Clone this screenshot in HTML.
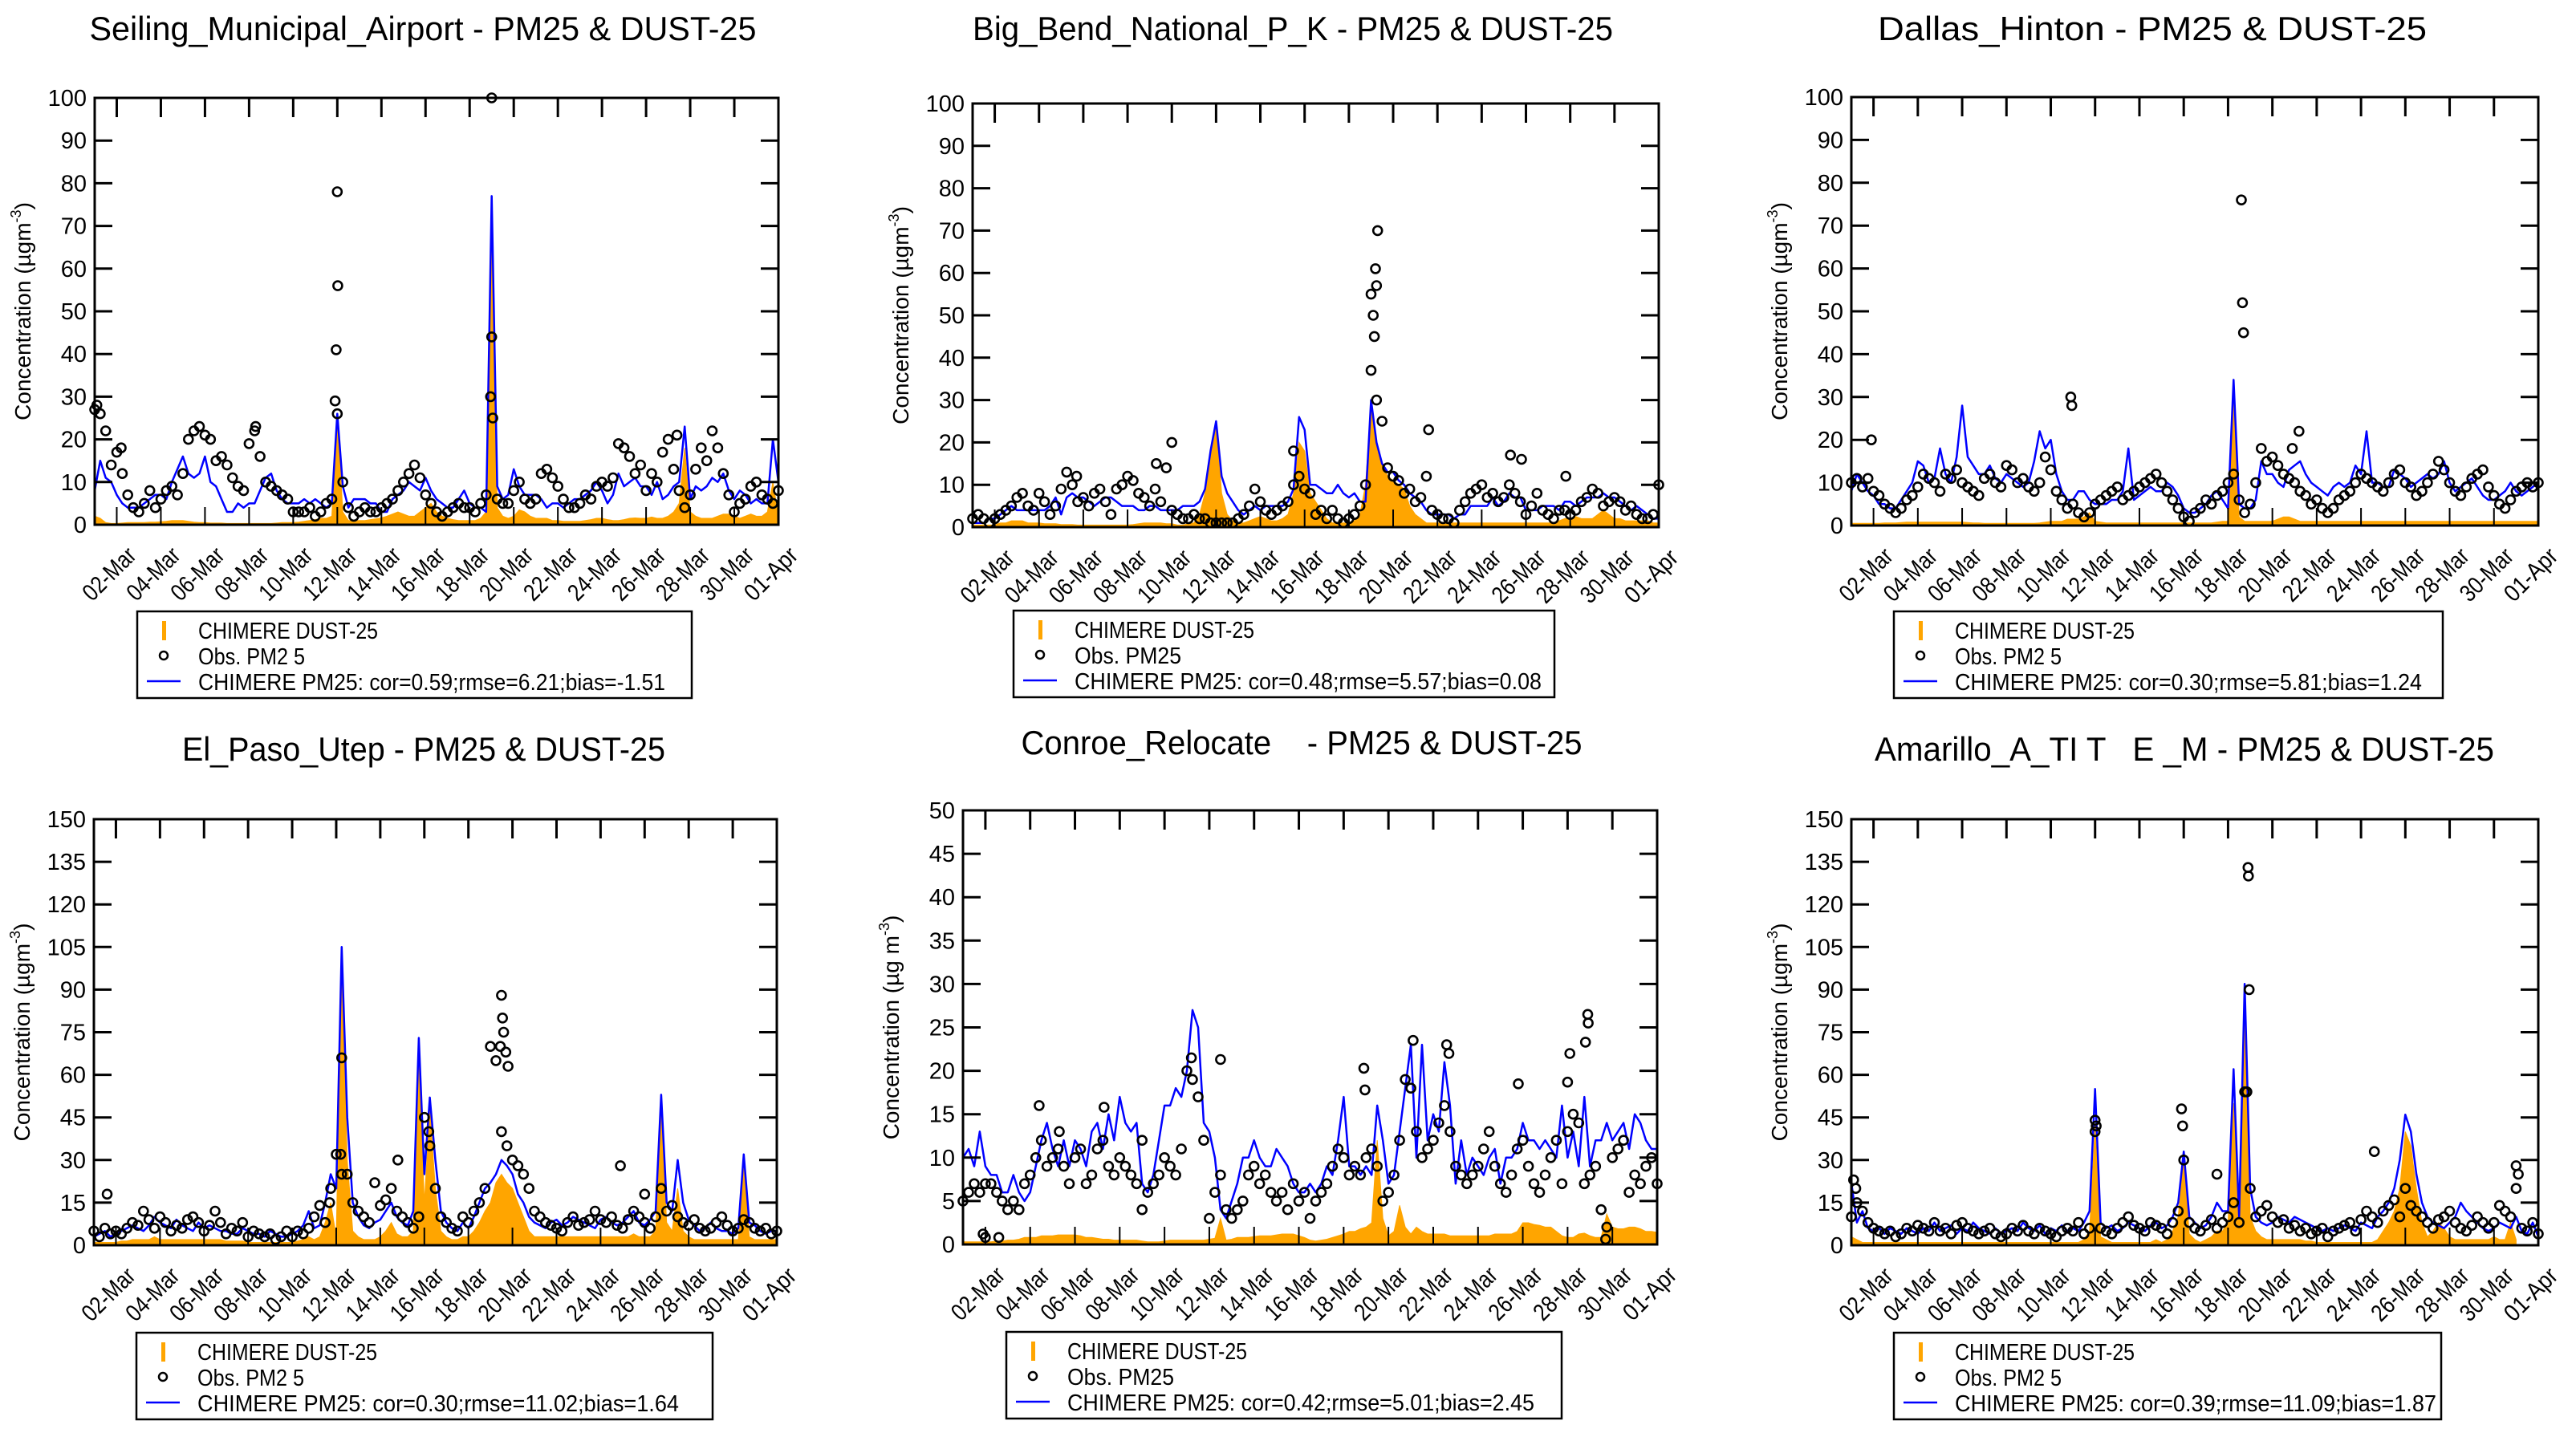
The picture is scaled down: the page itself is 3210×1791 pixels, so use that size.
<!DOCTYPE html>
<html><head><meta charset="utf-8"><title>PM25 & DUST-25</title>
<style>html,body{margin:0;padding:0;background:#fff}svg{display:block}text{font-family:"Liberation Sans",sans-serif;fill:#000;white-space:pre}</style>
</head><body>
<svg id="fig" xmlns="http://www.w3.org/2000/svg" width="3210" height="1791" viewBox="0 0 3210 1791"></svg>
<script>
// ---- shared axis data ----
const xTickDays = [1,3,5,7,9,11,13,15,17,19,21,23,25,27,29,31];
const xTickLabels = ['02-Mar','04-Mar','06-Mar','08-Mar','10-Mar','12-Mar','14-Mar','16-Mar','18-Mar','20-Mar','22-Mar','24-Mar','26-Mar','28-Mar','30-Mar','01-Apr'];
const yTicks100 = [0,10,20,30,40,50,60,70,80,90,100];
const yTicks150 = [0,15,30,45,60,75,90,105,120,135,150];
const yTicks50 = [0,5,10,15,20,25,30,35,40,45,50];

// ---- panel 1: Seiling ----
const p1Model = [8,15,11,10, 7,5,4,4, 4,5,6,7, 7,6,10,13, 16,12,11,12, 16,10,9,6, 3,3,5,4, 5,5,8,11, 12,8,6,5, 5,5,6,5, 6,5,4,5, 26,9,4,6, 6,6,5,5, 3,3,6,7, 8,10,9,8, 11,8,6,5, 4,4,6,8, 5,4,4,3, 77,9,6,7, 13,9,7,7, 7,6,4,5, 5,4,5,6, 6,7,8,10, 8,5,7,12, 9,10,11,9, 9,7,10,6, 7,9,10,23, 6,9,8,9, 11,10,12,8, 6,8,7,5, 6,5,5,20, 10];
const p1Obs = [27,26,22,14, 17,12,7,4, 3,5,8,4, 6,8,9,7, 12,20,22,23, 21,20,15,16, 14,11,9,8, 19,22,16,10, 9,8,7,6, 3,3,3,4, 2,3,5,6, 26,10,4,2, 3,4,3,3, 4,5,6,8, 10,12,14,11, 7,5,3,2, 3,4,5,4, 4,3,5,7, 44,6,5,5, 8,10,6,5, 6,12,13,11, 9,6,4,4, 5,7,6,9, 10,9,11,19, 18,16,12,14, 8,12,10,17, 20,13,8,4, 7,13,18,15, 22,18,12,7, 3,5,6,9, 10,7,6,5, 8];
const p1Dust = [2,1.5,0.5,0.3, 0.3,0.4,0.5,0.5, 0.5,0.5,0.6,0.6, 0.7,0.8,1,1, 1,0.8,0.6,0.5, 0.5,0.4,0.4,0.4, 0.3,0.3,0.3,0.3, 0.3,0.3,0.3,0.3, 0.3,0.4,0.5,0.5, 0.5,0.6,0.8,1, 1.2,1.5,1.5,2, 25,3,1,1, 1,1,1.2,1.4, 1.6,2,2.5,3, 2.5,2,2,3, 4,5,3,2, 1.5,1.2,1,1, 1,1,1.5,3, 75,4,2,1.5, 2,3.5,3,2, 1.5,1.5,1.5,1, 1,0.8,0.8,0.8, 0.8,1,1.2,1.5, 1.5,1.2,1,1, 1.2,1.5,1.6,1.5, 1.5,1.8,1.5,1.5, 2,3,5,18, 3,2,1.5,1.5, 1.5,2,2.5,2.5, 2,1.5,2,2.5, 2,2,3,10, 2];
const p1ObsExtraT = [11.0,11.02,10.95,10.9,18.0,17.95,18.05,0.1,1.2,7.3,26.4];
const p1ObsExtraV = [78,56,41,29,100,30,25,28,18,23,21];

// ---- panel 2: Big Bend ----
const p2Model = [1,1,1,2, 2,3,4,5, 4,4,4,4, 4,4,5,7, 3,7,8,7, 7,6,5,6, 7,7,6,5, 5,5,4,4, 5,5,4,4, 4,4,5,5, 5,6,9,18, 25,12,8,6, 4,3,4,5, 4,5,5,5, 5,6,9,26, 23,10,10,9, 8,8,10,8, 7,8,6,6, 30,20,15,13, 13,11,10,8, 7,6,4,3, 3,3,3,2, 3,3,5,5, 5,5,7,5, 6,8,7,7, 4,4,4,5, 5,5,4,6, 6,5,6,7, 7,7,8,7, 7,6,5,4, 5,4,3,2, 2];
const p2Obs = [2,3,2,1, 2,3,4,5, 7,8,5,4, 8,6,3,5, 9,13,10,6, 7,5,8,9, 6,3,9,10, 12,11,8,7, 5,9,6,14, 4,3,2,2, 3,2,2,1, 1,1,1,1, 2,3,5,9, 6,4,3,4, 5,6,10,12, 9,8,3,4, 2,4,2,1, 2,3,5,10, 55,30,25,14, 12,11,8,9, 6,7,12,4, 3,2,2,1, 4,6,8,9, 10,7,8,6, 7,10,8,6, 3,5,8,4, 3,2,4,4, 3,4,6,7, 9,8,5,6, 7,6,4,5, 3,2,2,3, 10];
const p2Dust = [0.5,0.5,0.5,0.5, 0.5,1,1,1.5, 1.5,1.5,1,1, 1,0.8,0.8,0.8, 0.6,0.6,0.6,0.5, 0.5,0.5,0.5,0.5, 0.5,0.5,0.5,0.5, 0.5,0.6,0.8,1, 1,1,1,0.8, 0.8,0.5,0.5,0.8, 1,3,8,18, 25,8,3,1.5, 1,1,1.5,2, 2.5,2,1.5,1.5, 2,3,8,20, 18,8,6,4, 2,1,1,1, 1,1.5,3,10, 28,20,15,12, 11,10,9,5, 3,2,1,1, 1,1,1,1, 1,1,1,1, 1,1,1,1, 1,1,1,1, 1,1,1,1, 1,1,1.5,2, 2,2.5,2,2, 2,3,4,3, 2,2,1.5,1.5, 1.5,1.5,1.5,1, 1];
const p2ObsExtraT = [18.3,18.2,18.25,18.1,18.15,18.0,20.6,14.5,9.0,4.7,24.3,24.8,26.8,8.3];
const p2ObsExtraV = [70,61,57,50,45,37,23,18,20,12,17,16,12,15];

// ---- panel 3: Dallas Hinton ----
const p3Model = [8,12,10,8, 7,5,5,4, 4,6,8,10, 15,14,10,11, 18,12,10,16, 28,16,14,12, 12,14,11,10, 12,11,10,9, 10,15,22,18, 20,12,8,6, 6,8,8,6, 5,5,5,6, 6,8,18,6, 7,8,9,8, 8,10,9,7, 4,3,3,4, 5,7,8,6, 4,34,5,4, 4,6,15,12, 12,10,9,13, 14,15,12,10, 9,8,7,9, 10,9,10,14, 12,22,10,10, 9,9,13,12, 11,9,10,11, 12,11,12,15, 10,8,9,10, 11,9,7,6, 6,7,8,10, 8,7,8,9, 10];
const p3Obs = [10,11,9,11, 8,7,5,4, 3,4,6,7, 9,12,11,10, 8,12,11,13, 10,9,8,7, 11,12,10,9, 14,13,10,11, 9,8,10,16, 13,8,6,4, 5,3,2,3, 5,6,7,8, 9,6,7,8, 9,10,11,12, 10,8,6,4, 2,1,3,4, 6,5,7,8, 10,12,6,3, 5,10,18,15, 16,14,12,11, 10,8,7,5, 6,4,3,4, 6,7,8,10, 12,11,10,9, 8,10,12,13, 10,9,7,8, 10,12,15,13, 10,8,7,9, 11,12,13,9, 7,5,4,6, 8,9,10,9, 10];
const p3Dust = [0.5,0.5,0.5,0.5, 0.5,0.5,0.6,0.6, 0.6,0.7,0.8,0.8, 0.8,0.8,0.8,0.8, 0.8,0.8,0.8,0.8, 0.8,0.7,0.6,0.6, 0.5,0.5,0.5,0.5, 0.5,0.5,0.5,0.5, 0.5,0.5,0.6,0.8, 1,1,1,1.5, 1.5,1.5,2,3, 1,0.8,0.6,0.6, 0.6,0.6,0.6,0.6, 0.6,0.6,0.6,0.6, 0.6,0.6,0.6,0.6, 0.6,0.6,0.6,0.6, 0.6,0.6,0.8,1, 1,30,2,1, 1,1,1,1, 1,1.5,2,2, 1.5,1,1,1, 1,1,1,1, 1,1,1,1, 1,1,1,1, 1,1,1,1, 1,1,1,1, 1,1,1,1, 1,1,1,1, 1,1,1,1, 1,1,1,1, 1,1,1,1, 1];
const p3ObsExtraT = [17.6,17.65,17.7,9.9,9.95,0.9,20.2,19.9];
const p3ObsExtraV = [76,52,45,30,28,20,22,18];

// ---- panel 4: El Paso ----
const p4Model = [3,4,5,3, 4,5,6,7, 6,5,7,10, 8,7,6,9, 7,6,5,8, 6,7,6,5, 5,4,4,6, 5,4,4,3, 5,4,3,3, 4,5,7,12, 6,7,15,25, 20,105,45,15, 10,7,6,8, 9,12,15,10, 8,7,12,73, 25,52,30,12, 8,6,5,8, 6,10,15,20, 22,25,30,28, 25,18,15,10, 8,7,6,8, 9,7,8,10, 9,8,7,6, 9,10,8,7, 8,10,12,8, 7,9,12,53, 15,12,30,15, 9,7,5,6, 8,6,5,5, 4,6,32,8, 7,5,4,5, 5];
const p4Obs = [5,3,6,4, 5,4,6,8, 7,12,9,6, 10,8,5,7, 6,9,10,8, 5,7,12,8, 4,6,5,8, 3,5,4,3, 4,2,3,5, 3,5,4,6, 10,14,8,20, 32,25,25,15, 12,10,8,22, 14,16,20,12, 10,8,6,10, 45,35,20,10, 8,6,5,10, 8,12,15,20, 70,65,40,35, 30,28,25,20, 12,10,8,7, 6,5,8,10, 7,8,9,12, 9,8,10,7, 6,9,12,10, 8,6,10,20, 12,14,10,8, 7,9,6,5, 6,8,10,7, 5,6,9,8, 6,5,6,4, 5];
const p4Dust = [1,1,1,1, 1,1.5,1.5,2, 2,2,2,3, 2,2,2,2, 2,2,2,2, 2,2,2,2, 1.5,1.5,1.5,1.5, 1,1,1,1, 1,1,1,1, 1,1.5,2,3, 2,3,8,15, 3,100,30,5, 3,2,2,2, 3,5,8,4, 3,3,5,68, 15,48,20,5, 3,2,2,3, 3,5,8,12, 15,22,25,22, 20,15,10,5, 3,3,3,3, 3,3,3,3, 3,3,3,3, 3,3,3,3, 3,3,4,3, 3,3,5,48, 8,5,20,5, 3,2,2,2, 2,2,2,2, 2,2,28,3, 2,2,2,2, 2];
const p4ObsExtraT = [18.5,18.55,18.6,18.45,18.7,18.8,11.25,13.8,0.6,23.9,25.0,10.7,11.2,15.2];
const p4ObsExtraV = [88,80,75,70,68,63,66,30,18,28,18,15,32,40];

// ---- panel 5: Conroe ----
const p5Model = [10,11,9,13, 9,8,8,6, 6,8,6,5, 6,9,12,14, 11,9,12,9, 12,11,9,13, 14,11,15,12, 17,14,13,14, 7,6,8,12, 16,16,18,17, 20,27,25,14, 13,10,4,3, 5,7,10,10, 12,10,9,9, 11,10,9,7, 6,6,7,6, 7,9,8,12, 17,9,9,8, 9,8,16,12, 7,8,13,18, 23,10,23,12, 15,13,21,16, 7,12,8,10, 9,8,10,11, 7,10,10,11, 14,12,12,11, 12,11,10,16, 10,13,9,17, 9,12,12,14, 12,13,14,11, 15,14,12,11, 11];
const p5Obs = [5,6,7,6, 7,7,6,5, 4,5,4,7, 8,10,12,9, 10,11,9,7, 10,11,7,8, 11,12,9,8, 10,9,8,7, 4,6,7,8, 10,9,8,11, 20,19,17,12, 3,6,8,4, 3,4,5,8, 9,7,8,6, 5,6,4,7, 5,6,3,5, 6,7,9,11, 10,8,9,8, 10,11,9,5, 6,8,12,19, 18,13,10,11, 12,14,16,13, 9,8,7,8, 9,11,13,9, 7,6,8,11, 12,9,7,6, 8,10,12,7, 13,15,14,7, 8,9,4,2, 10,11,12,6, 8,7,9,10, 7];
const p5Dust = [0.3,0.3,0.3,0.3, 0.3,0.3,0.4,0.4, 0.5,0.5,0.6,0.8, 0.8,0.8,1,1, 1,1.1,1.1,1.1, 1.1,1,0.8,0.8, 0.7,0.6,0.6,0.5, 0.5,0.5,0.5,0.5, 0.4,0.3,0.3,0.3, 0.4,0.5,0.5,0.5, 0.5,0.5,0.5,0.5, 0.6,0.7,3,0.5, 0.6,0.8,0.8,0.8, 0.9,1,1,1, 1.1,1.2,1.2,1.2, 1,0.8,0.5,0.4, 0.5,0.6,0.8,1, 1.2,1.5,1.5,1.8, 2,2.5,12,3, 1,1.5,4.5,2, 1.2,2,1.5,1.2, 1.2,1.2,1.2,1, 1,1,1,1, 1,1,1,1.2, 1.2,1.2,1.2,1.5, 2.5,2.5,2.3,2.2, 2,2,1.5,1, 0.8,0.8,1.2,1.3, 1,0.8,0.8,3.5, 2,1.8,1.8,2, 2,1.8,1.5,1.5, 1.4];
const p5ObsExtraT = [0.9,1.0,1.6,11.5,17.9,17.95,20.1,21.6,21.7,27.1,27.0,27.9,27.92,27.8,3.4,6.3,24.8,28.7,10.2,4.3,8.0];
const p5ObsExtraV = [1.2,0.8,0.8,21.3,20.3,17.8,23.5,23,22,22,18.7,26.5,25.5,23.3,16,15.8,18.5,0.6,21.5,13,12];

// ---- panel 6: Amarillo ----
const p6Model = [22,8,12,6, 5,6,4,6, 5,4,6,5, 4,6,5,8, 5,6,7,4, 6,5,8,6, 5,4,6,4, 5,6,5,8, 6,5,7,4, 6,5,7,5, 6,5,8,12, 55,8,6,7, 5,6,8,7, 6,5,7,8, 6,7,10,15, 33,10,8,6, 7,10,15,12, 12,62,10,92, 20,10,8,7, 8,10,9,8, 10,9,8,7, 6,5,6,5, 6,7,6,5, 8,7,6,10, 12,15,20,30, 46,40,25,15, 10,8,7,6, 8,10,15,12, 10,8,6,5, 6,8,7,6, 10,5,4,8, 3];
const p6Obs = [10,15,12,8, 6,5,4,5, 3,4,6,5, 7,6,5,8, 5,6,4,7, 8,6,5,4, 5,6,4,3, 4,6,5,7, 5,4,6,5, 4,3,5,6, 5,8,4,6, 40,6,5,4, 6,8,10,7, 6,5,8,7, 6,4,8,12, 30,8,6,5, 7,9,6,8, 10,15,8,54, 20,10,12,14, 10,8,9,6, 7,5,6,4, 5,6,3,5, 6,7,8,5, 9,12,10,8, 12,14,16,10, 20,14,12,10, 8,6,9,10, 12,8,6,5, 7,10,8,6, 8,14,12,10, 20,6,5,8, 4];
const p6Dust = [3,2,1,1, 1,1,1,1, 1,1,1,1, 1,1,1,1, 1,1,1,1, 1,1,1,1, 1,1,1,1, 1,1,1,1, 1,1,1,1, 1,1,1,1, 1,1,2,5, 42,3,2,1, 1,1,1,1, 1,1,1,2, 1,2,5,10, 30,4,2,1, 2,3,5,5, 8,50,5,90, 10,5,3,2, 2,2,2,2, 2,2,1.5,1.5, 1,1,1,1, 1,1,1,1, 1,1,1,2, 5,8,12,20, 40,35,20,8, 3,5,8,6, 3,2,2,2, 2,2,2,2, 3,2,2,8, 2];
const p6ObsExtraT = [17.9,17.92,17.95,11.0,11.05,14.9,14.95,23.6,30.0,30.1,0.1,0.2,17.85,16.5];
const p6ObsExtraV = [133,130,90,44,42,48,42,33,28,25,23,20,54,25];

const NS = 'http://www.w3.org/2000/svg';
const svg = document.getElementById('fig');
function el(tag, attrs, parent) {
  const e = document.createElementNS(NS, tag);
  for (const k in attrs) e.setAttribute(k, attrs[k]);
  (parent || svg).appendChild(e);
  return e;
}

function drawPanel(cfg) {
  const g = el('g', {});
  
  
  const L = cfg.L, R = cfg.R, T = cfg.T, B = cfg.B;
  const xs = t => L + (t / 31) * (R - L);
  const ys = v => B - (Math.min(v, cfg.ymax) / cfg.ymax) * (B - T);

  const tt = el('text', {x: cfg.tcx, y: cfg.ty, 'text-anchor': 'middle', 'font-size': 42, textLength: cfg.tw, lengthAdjust: 'spacingAndGlyphs'}, g);
  tt.textContent = cfg.title;
  
  

  let pts = xs(0) + ',' + B + ' ';
  cfg.dust.forEach((v, i) => { pts += xs(i / 4).toFixed(1) + ',' + ys(v).toFixed(1) + ' '; });
  pts += xs((cfg.dust.length - 1) / 4) + ',' + B;
  const da = el('polygon', {points: pts, fill: '#FFA500', stroke: '#FFA500', 'stroke-width': 1}, g);
  
  

  const lp = cfg.model.map((v, i) => xs(i / 4).toFixed(1) + ',' + ys(v).toFixed(1)).join(' ');
  const ml = el('polyline', {points: lp, fill: 'none', stroke: '#0000FF', 'stroke-width': 2.5, 'stroke-linejoin': 'round'}, g);
  
  

  const og = el('g', {fill: 'none', stroke: '#000', 'stroke-width': 2.6}, g);
  
  
  cfg.obs.forEach((v, i) => {
    const c = el('circle', {cx: xs(i / 4).toFixed(1), cy: ys(v).toFixed(1), r: 5.5}, og);
    
    
  });
  cfg.extraT.forEach((t, i) => {
    const c = el('circle', {cx: xs(t).toFixed(1), cy: ys(cfg.extraV[i]).toFixed(1), r: 5.5}, og);
    
    
  });

  const fr = el('rect', {x: L, y: T, width: R - L, height: B - T, fill: 'none', stroke: '#000', 'stroke-width': 3}, g);
  
  

  cfg.yticks.forEach(v => {
    const y = ys(v);
    el('line', {x1: L, x2: L + 22, y1: y, y2: y, stroke: '#000', 'stroke-width': 3}, g);
    el('line', {x1: R, x2: R - 22, y1: y, y2: y, stroke: '#000', 'stroke-width': 3}, g);
    const t = el('text', {x: L - 10, y: y + 10, 'text-anchor': 'end', 'font-size': 29}, g);
    t.textContent = String(v);
    
    
  });
  xTickDays.forEach((d, i) => {
    const x = xs(d);
    el('line', {x1: x, x2: x, y1: T, y2: T + 24, stroke: '#000', 'stroke-width': 3}, g);
    el('line', {x1: x, x2: x, y1: B, y2: B - 22, stroke: '#000', 'stroke-width': 2}, g);
    const ax = x + 26, ay = B + 40;
    const t = el('text', {x: ax, y: ay, 'text-anchor': 'end', 'font-size': 30, textLength: 80, lengthAdjust: 'spacingAndGlyphs', transform: 'rotate(-45 ' + ax + ' ' + ay + ')'}, g);
    t.textContent = xTickLabels[i];
    
    
  });

  const cy = (T + B) / 2, cx = L - 80;
  const yt = el('text', {x: cx, y: cy, 'text-anchor': 'middle', 'font-size': 28, transform: 'rotate(-90 ' + cx + ' ' + cy + ')'}, g);
  
  
  yt.textContent = cfg.ylab;
  const sup = el('tspan', {'font-size': 18, dy: -12}, yt); sup.textContent = '-3';
  const cl = el('tspan', {dy: 12}, yt); cl.textContent = ')';

  const lg = el('g', {}, g);
  
  
  const lx = cfg.lx, ly = cfg.ly;
  el('rect', {x: lx, y: ly, width: cfg.lw, height: 108, fill: '#fff', stroke: '#000', 'stroke-width': 2.5}, lg);
  el('rect', {x: lx + 31, y: ly + 12, width: 5, height: 24, fill: '#FFA500'}, lg);
  el('circle', {cx: lx + 33, cy: ly + 55, r: 5, fill: 'none', stroke: '#000', 'stroke-width': 2.5}, lg);
  el('line', {x1: lx + 12, x2: lx + 54, y1: ly + 87, y2: ly + 87, stroke: '#0000FF', 'stroke-width': 2.5}, lg);
  const rows = [['CHIMERE DUST-25', 224], [cfg.obsLab, cfg.obsW], [cfg.stats, cfg.statW]];
  rows.forEach((r, i) => {
    const t = el('text', {x: lx + 76, y: ly + 34 + i * 32, 'font-size': 29, textLength: r[1], lengthAdjust: 'spacingAndGlyphs'}, lg);
    t.textContent = r[0];
    
    
  });
}

const yl1 = 'Concentration (\u00b5gm';
const yl2 = 'Concentration (\u00b5g m';
drawPanel({key:'seiling', L:118, R:970, T:122, B:654, ymax:100, yticks:yTicks100, model:p1Model, obs:p1Obs, dust:p1Dust, extraT:p1ObsExtraT, extraV:p1ObsExtraV,
  title:'Seiling_Municipal_Airport - PM25 & DUST-25', tcx:527, ty:50, tw:831, ylab:yl1, lx:171, ly:762, lw:691, obsLab:'Obs. PM2 5', obsW:133, stats:'CHIMERE PM25: cor=0.59;rmse=6.21;bias=-1.51', statW:582});
drawPanel({key:'big-bend', L:1212, R:2067, T:129, B:657, ymax:100, yticks:yTicks100, model:p2Model, obs:p2Obs, dust:p2Dust, extraT:p2ObsExtraT, extraV:p2ObsExtraV,
  title:'Big_Bend_National_P_K - PM25 & DUST-25', tcx:1611, ty:50, tw:798, ylab:yl1, lx:1263, ly:761, lw:674, obsLab:'Obs. PM25', obsW:133, stats:'CHIMERE PM25: cor=0.48;rmse=5.57;bias=0.08', statW:582});
drawPanel({key:'dallas', L:2307, R:3163, T:121, B:655, ymax:100, yticks:yTicks100, model:p3Model, obs:p3Obs, dust:p3Dust, extraT:p3ObsExtraT, extraV:p3ObsExtraV,
  title:'Dallas_Hinton - PM25 & DUST-25', tcx:2682, ty:50, tw:684, ylab:yl1, lx:2360, ly:762, lw:684, obsLab:'Obs. PM2 5', obsW:133, stats:'CHIMERE PM25: cor=0.30;rmse=5.81;bias=1.24', statW:582});
drawPanel({key:'el-paso', L:117, R:968, T:1021, B:1552, ymax:150, yticks:yTicks150, model:p4Model, obs:p4Obs, dust:p4Dust, extraT:p4ObsExtraT, extraV:p4ObsExtraV,
  title:'El_Paso_Utep - PM25 & DUST-25', tcx:528, ty:948, tw:602, ylab:yl1, lx:170, ly:1661, lw:718, obsLab:'Obs. PM2 5', obsW:133, stats:'CHIMERE PM25: cor=0.30;rmse=11.02;bias=1.64', statW:600});
drawPanel({key:'conroe', L:1200, R:2065, T:1010, B:1551, ymax:50, yticks:yTicks50, model:p5Model, obs:p5Obs, dust:p5Dust, extraT:p5ObsExtraT, extraV:p5ObsExtraV,
  title:'Conroe_Relocate    - PM25 & DUST-25', tcx:1622, ty:940, tw:699, ylab:yl2, lx:1254, ly:1660, lw:692, obsLab:'Obs. PM25', obsW:133, stats:'CHIMERE PM25: cor=0.42;rmse=5.01;bias=2.45', statW:582});
drawPanel({key:'amarillo', L:2307, R:3163, T:1021, B:1552, ymax:150, yticks:yTicks150, model:p6Model, obs:p6Obs, dust:p6Dust, extraT:p6ObsExtraT, extraV:p6ObsExtraV,
  title:'Amarillo_A_TI T   E _M - PM25 & DUST-25', tcx:2722, ty:948, tw:772, ylab:yl1, lx:2360, ly:1661, lw:682, obsLab:'Obs. PM2 5', obsW:133, stats:'CHIMERE PM25: cor=0.39;rmse=11.09;bias=1.87', statW:600});
</script>
</body></html>
